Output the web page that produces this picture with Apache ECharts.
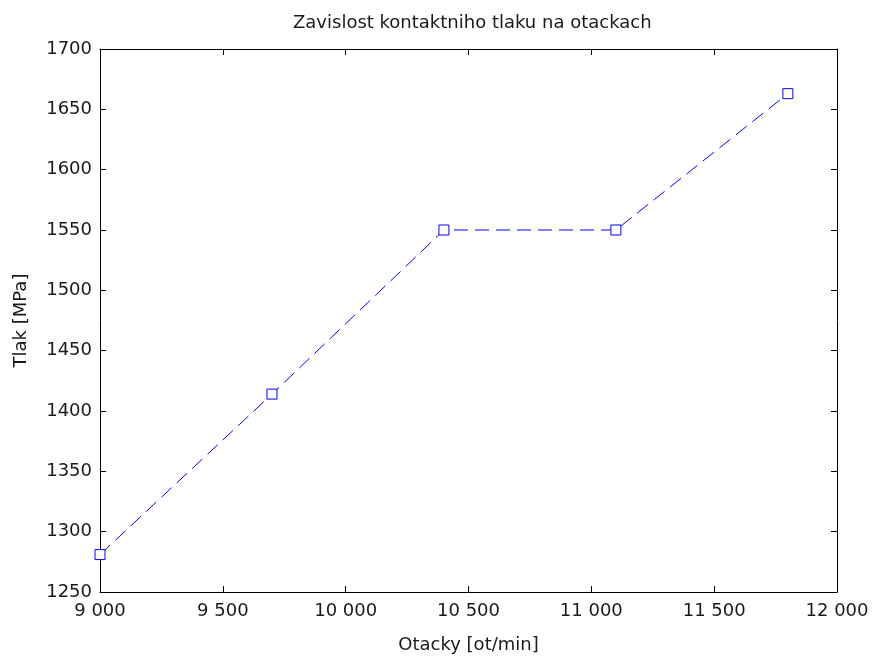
<!DOCTYPE html>
<html><head><meta charset="utf-8">
<script src="https://cdn.jsdelivr.net/npm/echarts@6/dist/echarts.min.js"></script>
<style>html,body{margin:0;padding:0;background:#fff}#c{width:875px;height:661px}</style>
</head><body><div id="c"></div>
<script>
const otacky = [9000, 9700, 10400, 11100, 11800];
const tlak = [1281, 1414, 1550, 1550, 1663];
const titleText = 'Zavislost kontaktniho tlaku na otackach';
const xName = 'Otacky [ot/min]';
const yName = 'Tlak [MPa]';

const chart = echarts.init(document.getElementById('c'));
const fmtX = v => String(v).replace(/\B(?=(\d{3})+(?!\d))/g, ' ');
const fmtY = v => String(v);
const axisLine = {show: true, onZero: false, lineStyle: {color: '#000', width: 1}};
const tick = {show: true, inside: true, length: 6, lineStyle: {color: '#000'}};
const font = {fontFamily: 'DejaVu Sans', fontSize: 18, color: '#1a1a1a'};
chart.setOption({
  animation: false,
  title: {text: titleText, left: 288, top: 9, textStyle: {fontFamily: 'DejaVu Sans', fontSize: 18, fontWeight: 'normal', color: '#1a1a1a'}},
  grid: {left: 100, right: 38, top: 49, bottom: 69},
  xAxis: [
    {type: 'value', min: 9000, max: 12000, interval: 500, position: 'bottom',
     name: xName, nameLocation: 'middle', nameGap: 44, nameTextStyle: font,
     axisLine: axisLine, axisTick: tick, splitLine: {show: false},
     axisLabel: Object.assign({formatter: fmtX, margin: 10}, font)},
    {type: 'value', min: 9000, max: 12000, interval: 500, position: 'top',
     axisLine: axisLine, axisTick: tick, splitLine: {show: false}, axisLabel: {show: false}}
  ],
  yAxis: [
    {type: 'value', min: 1250, max: 1700, interval: 50, position: 'left',
     name: yName, nameLocation: 'middle', nameGap: 70, nameTextStyle: font,
     axisLine: axisLine, axisTick: tick, splitLine: {show: false},
     axisLabel: Object.assign({formatter: fmtY, margin: 8}, font)},
    {type: 'value', min: 1250, max: 1700, interval: 50, position: 'right',
     axisLine: axisLine, axisTick: tick, splitLine: {show: false}, axisLabel: {show: false}}
  ],
  series: [{
    type: 'line',
    data: otacky.map((x, i) => [x, tlak[i]]),
    symbol: 'rect', symbolSize: 10,
    itemStyle: {color: '#fff', borderColor: '#0000ff', borderWidth: 1},
    lineStyle: {color: '#0000ff', width: 1, type: [14, 7]},
    z: 5
  }]
});
</script></body></html>
